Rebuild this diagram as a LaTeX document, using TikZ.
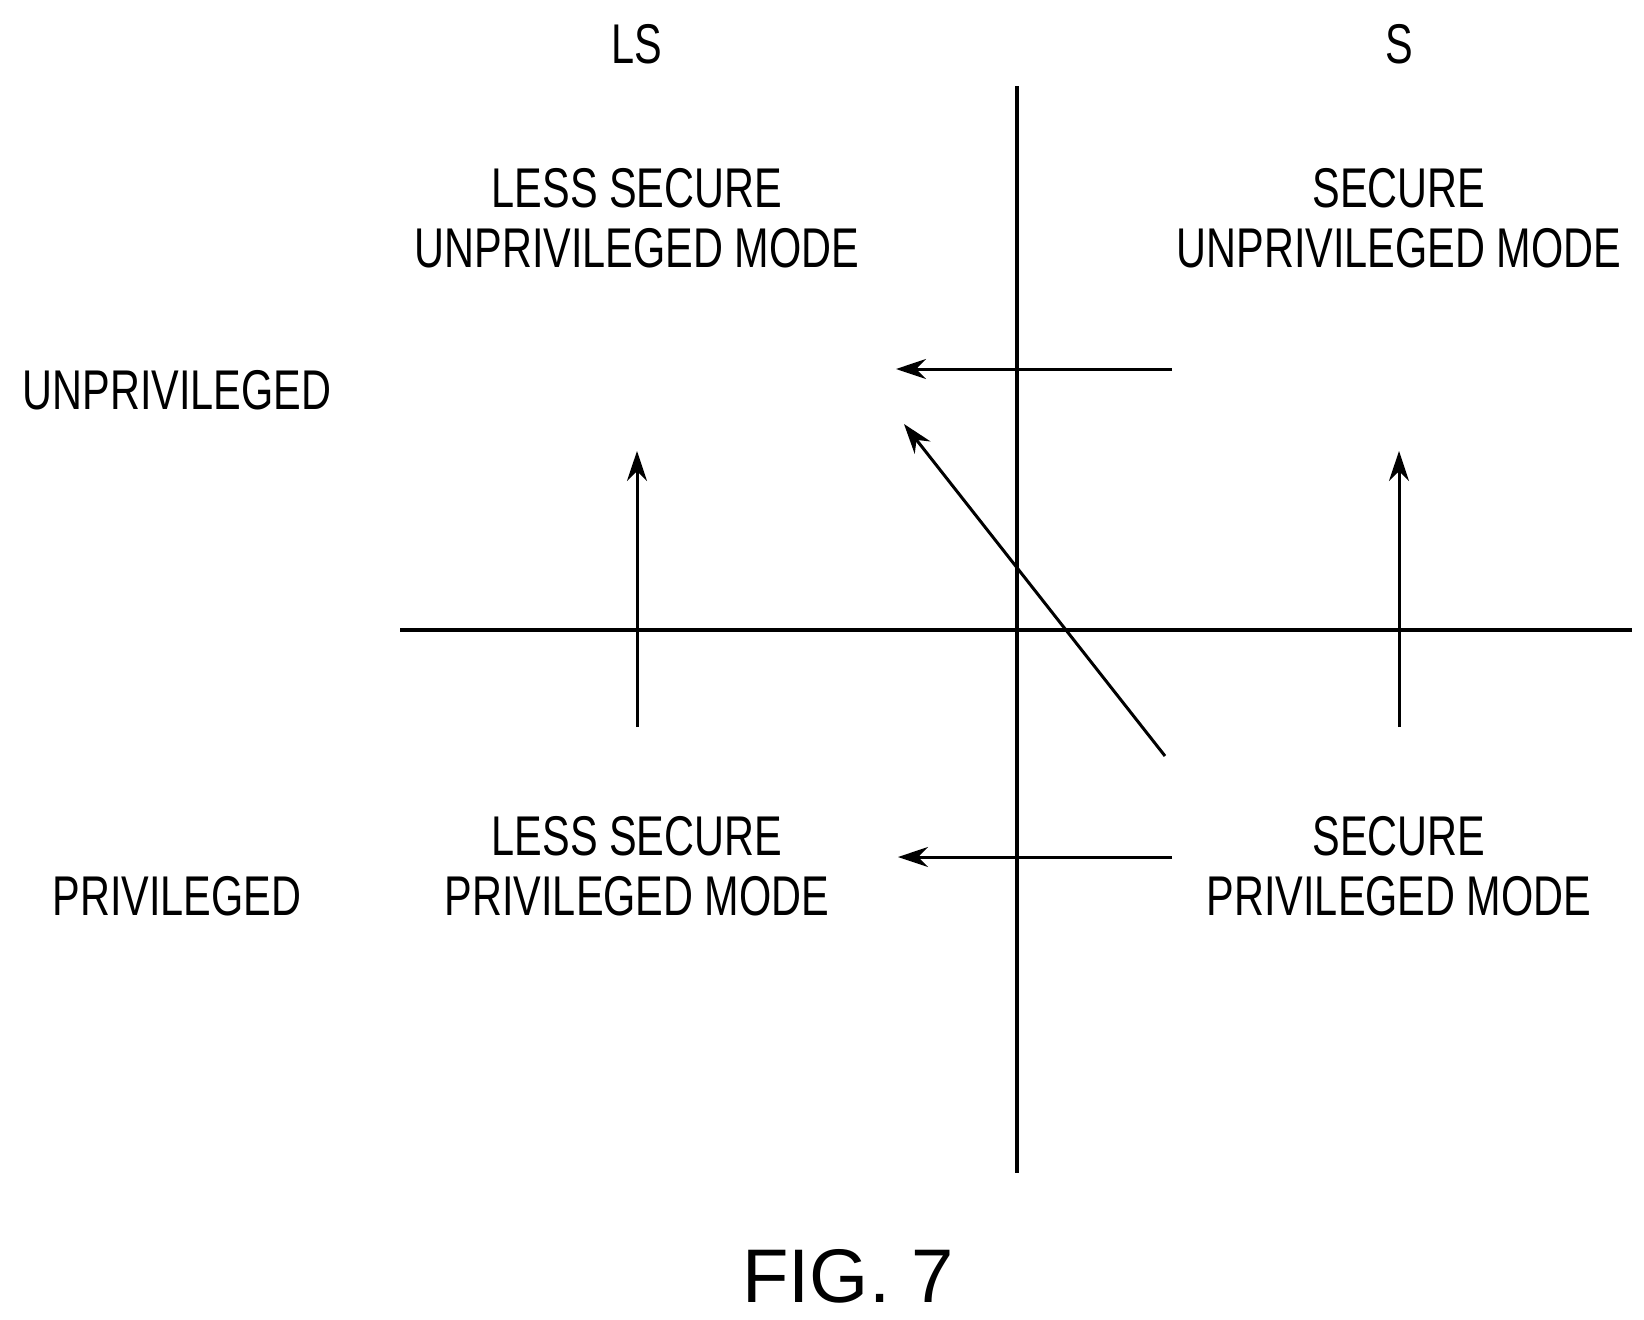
\documentclass[tikz,border=0pt]{standalone}
\usepackage{fontspec}
\setmainfont{Liberation Sans}[FakeStretch=0.74]
\newfontfamily\figfont{Liberation Sans}
\usetikzlibrary{arrows.meta}
\tikzset{
  lbl/.style={align=center,font=\fontsize{56}{60}\selectfont,inner sep=0pt},
  axis/.style={line width=3.5pt},
  move/.style={line width=3pt,-{Stealth[length=30pt,width=20pt]}}
}
\begin{document}
\begin{tikzpicture}[x=1pt,y=-1pt]
\useasboundingbox (0,0) rectangle (1644,1320);
%\draw[help lines] (0,0) grid (1644,1320);
\draw [axis] (1017,86)--(1017,1173);
\draw [axis] (400,630)--(1632,630);

\node (ls) at (637,44) [lbl] {LS};
\node (s) at (1399,44) [lbl] {S};
\node (unpriv) at (177,390) [lbl] {UNPRIVILEGED};
\node (priv) at (177,896) [lbl] {PRIVILEGED};
\node (lsu) at (637,218) [lbl] {LESS SECURE\\UNPRIVILEGED MODE};
\node (su) at (1399,218) [lbl] {SECURE\\UNPRIVILEGED MODE};
\node (lsp) at (637,866) [lbl] {LESS SECURE\\PRIVILEGED MODE};
\node (sp) at (1399,866) [lbl] {SECURE\\PRIVILEGED MODE};
\node (fig) at (848,1276) [inner sep=0pt,font=\figfont\fontsize{76}{80}\selectfont] {FIG. 7};

\coordinate (a1) at (1172,369); \coordinate (a2) at (896,369);
\coordinate (b1) at (1172,857); \coordinate (b2) at (898,857);
\coordinate (c1) at (637,727);  \coordinate (c2) at (637,451);
\coordinate (d1) at (1399,727); \coordinate (d2) at (1399,451);
\coordinate (e1) at (1165,756); \coordinate (e2) at (904,424);

\draw [move] (a1)--(a2);
\draw [move] (b1)--(b2);
\draw [move] (c1)--(c2);
\draw [move] (d1)--(d2);
\draw [move] (e1)--(e2);
\end{tikzpicture}
\end{document}
